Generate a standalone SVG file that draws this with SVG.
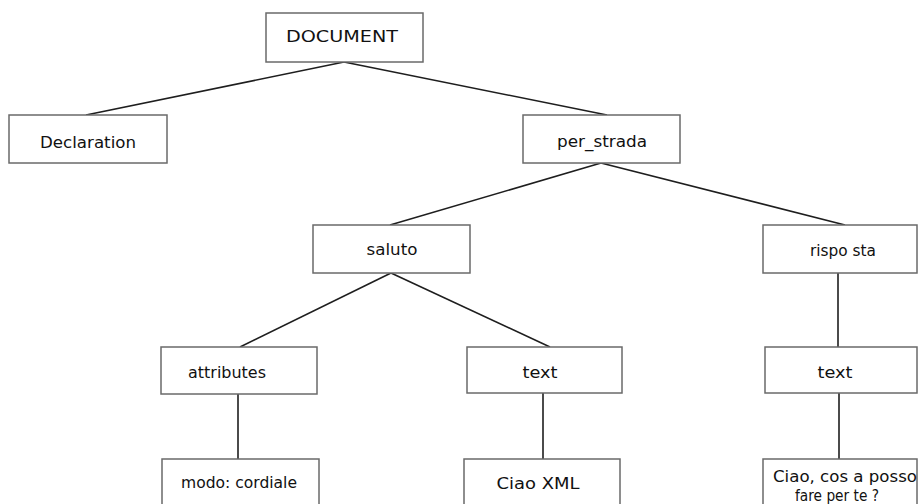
<svg xmlns="http://www.w3.org/2000/svg" width="919" height="504" viewBox="0 0 919 504">
  <style>
    .box { fill: #ffffff; stroke: #6a6a6a; stroke-width: 1.5; }
    .edge { stroke: #1e1e1e; stroke-width: 1.6; fill: none; }
    .lbl { font-family: "DejaVu Sans", "Liberation Sans", sans-serif; font-size: 15px; fill: #111111; text-anchor: middle; }
  </style>
  <rect width="919" height="504" fill="#ffffff"/>

  <g id="connectors">
    <line class="edge" x1="344" y1="62" x2="86" y2="115"/>
    <line class="edge" x1="344" y1="62" x2="607" y2="115"/>
    <line class="edge" x1="601" y1="163" x2="390" y2="225"/>
    <line class="edge" x1="601" y1="163" x2="845" y2="225"/>
    <line class="edge" x1="391" y1="273" x2="240" y2="347"/>
    <line class="edge" x1="391" y1="273" x2="550" y2="347"/>
    <line class="edge" x1="838" y1="273" x2="838" y2="347"/>
    <line class="edge" x1="238" y1="394" x2="238" y2="459"/>
    <line class="edge" x1="543" y1="393" x2="543" y2="459"/>
    <line class="edge" x1="839" y1="393" x2="839" y2="459"/>
  </g>

  <g id="document">
    <rect class="box" x="266" y="13" width="157" height="49"/>
    <text class="lbl" x="342" y="42" textLength="112" lengthAdjust="spacingAndGlyphs">DOCUMENT</text>
  </g>
  <g id="declaration">
    <rect class="box" x="9" y="115" width="158" height="48"/>
    <text class="lbl" x="88" y="148" textLength="96" lengthAdjust="spacingAndGlyphs">Declaration</text>
  </g>
  <g id="per_strada">
    <rect class="box" x="523" y="115" width="157" height="48"/>
    <text class="lbl" x="602" y="147" textLength="90" lengthAdjust="spacingAndGlyphs">per_strada</text>
  </g>
  <g id="saluto">
    <rect class="box" x="313" y="225" width="157" height="48"/>
    <text class="lbl" x="392" y="255" textLength="51" lengthAdjust="spacingAndGlyphs">saluto</text>
  </g>
  <g id="risposta">
    <rect class="box" x="763" y="225" width="154" height="48"/>
    <text class="lbl" x="843" y="256" textLength="66" lengthAdjust="spacingAndGlyphs">rispo sta</text>
  </g>
  <g id="attributes">
    <rect class="box" x="161" y="347" width="156" height="47"/>
    <text class="lbl" x="227" y="378" textLength="78" lengthAdjust="spacingAndGlyphs">attributes</text>
  </g>
  <g id="text_saluto">
    <rect class="box" x="467" y="347" width="155" height="46"/>
    <text class="lbl" x="540" y="378" textLength="35" lengthAdjust="spacingAndGlyphs">text</text>
  </g>
  <g id="text_risposta">
    <rect class="box" x="765" y="347" width="152" height="46"/>
    <text class="lbl" x="835" y="378" textLength="35" lengthAdjust="spacingAndGlyphs">text</text>
  </g>
  <g id="modo">
    <rect class="box" x="162" y="459" width="157" height="48"/>
    <text class="lbl" x="239" y="488" textLength="116" lengthAdjust="spacingAndGlyphs">modo: cordiale</text>
  </g>
  <g id="ciao_xml">
    <rect class="box" x="464" y="459" width="156" height="48"/>
    <text class="lbl" x="538" y="489" textLength="83" lengthAdjust="spacingAndGlyphs">Ciao XML</text>
  </g>
  <g id="ciao_risposta">
    <rect class="box" x="763" y="459" width="154" height="48"/>
    <text class="lbl" x="845" y="482" textLength="144" lengthAdjust="spacingAndGlyphs">Ciao, cos a posso</text>
    <text class="lbl" x="837" y="501" textLength="84" lengthAdjust="spacingAndGlyphs">fare per te ?</text>
  </g>
</svg>
